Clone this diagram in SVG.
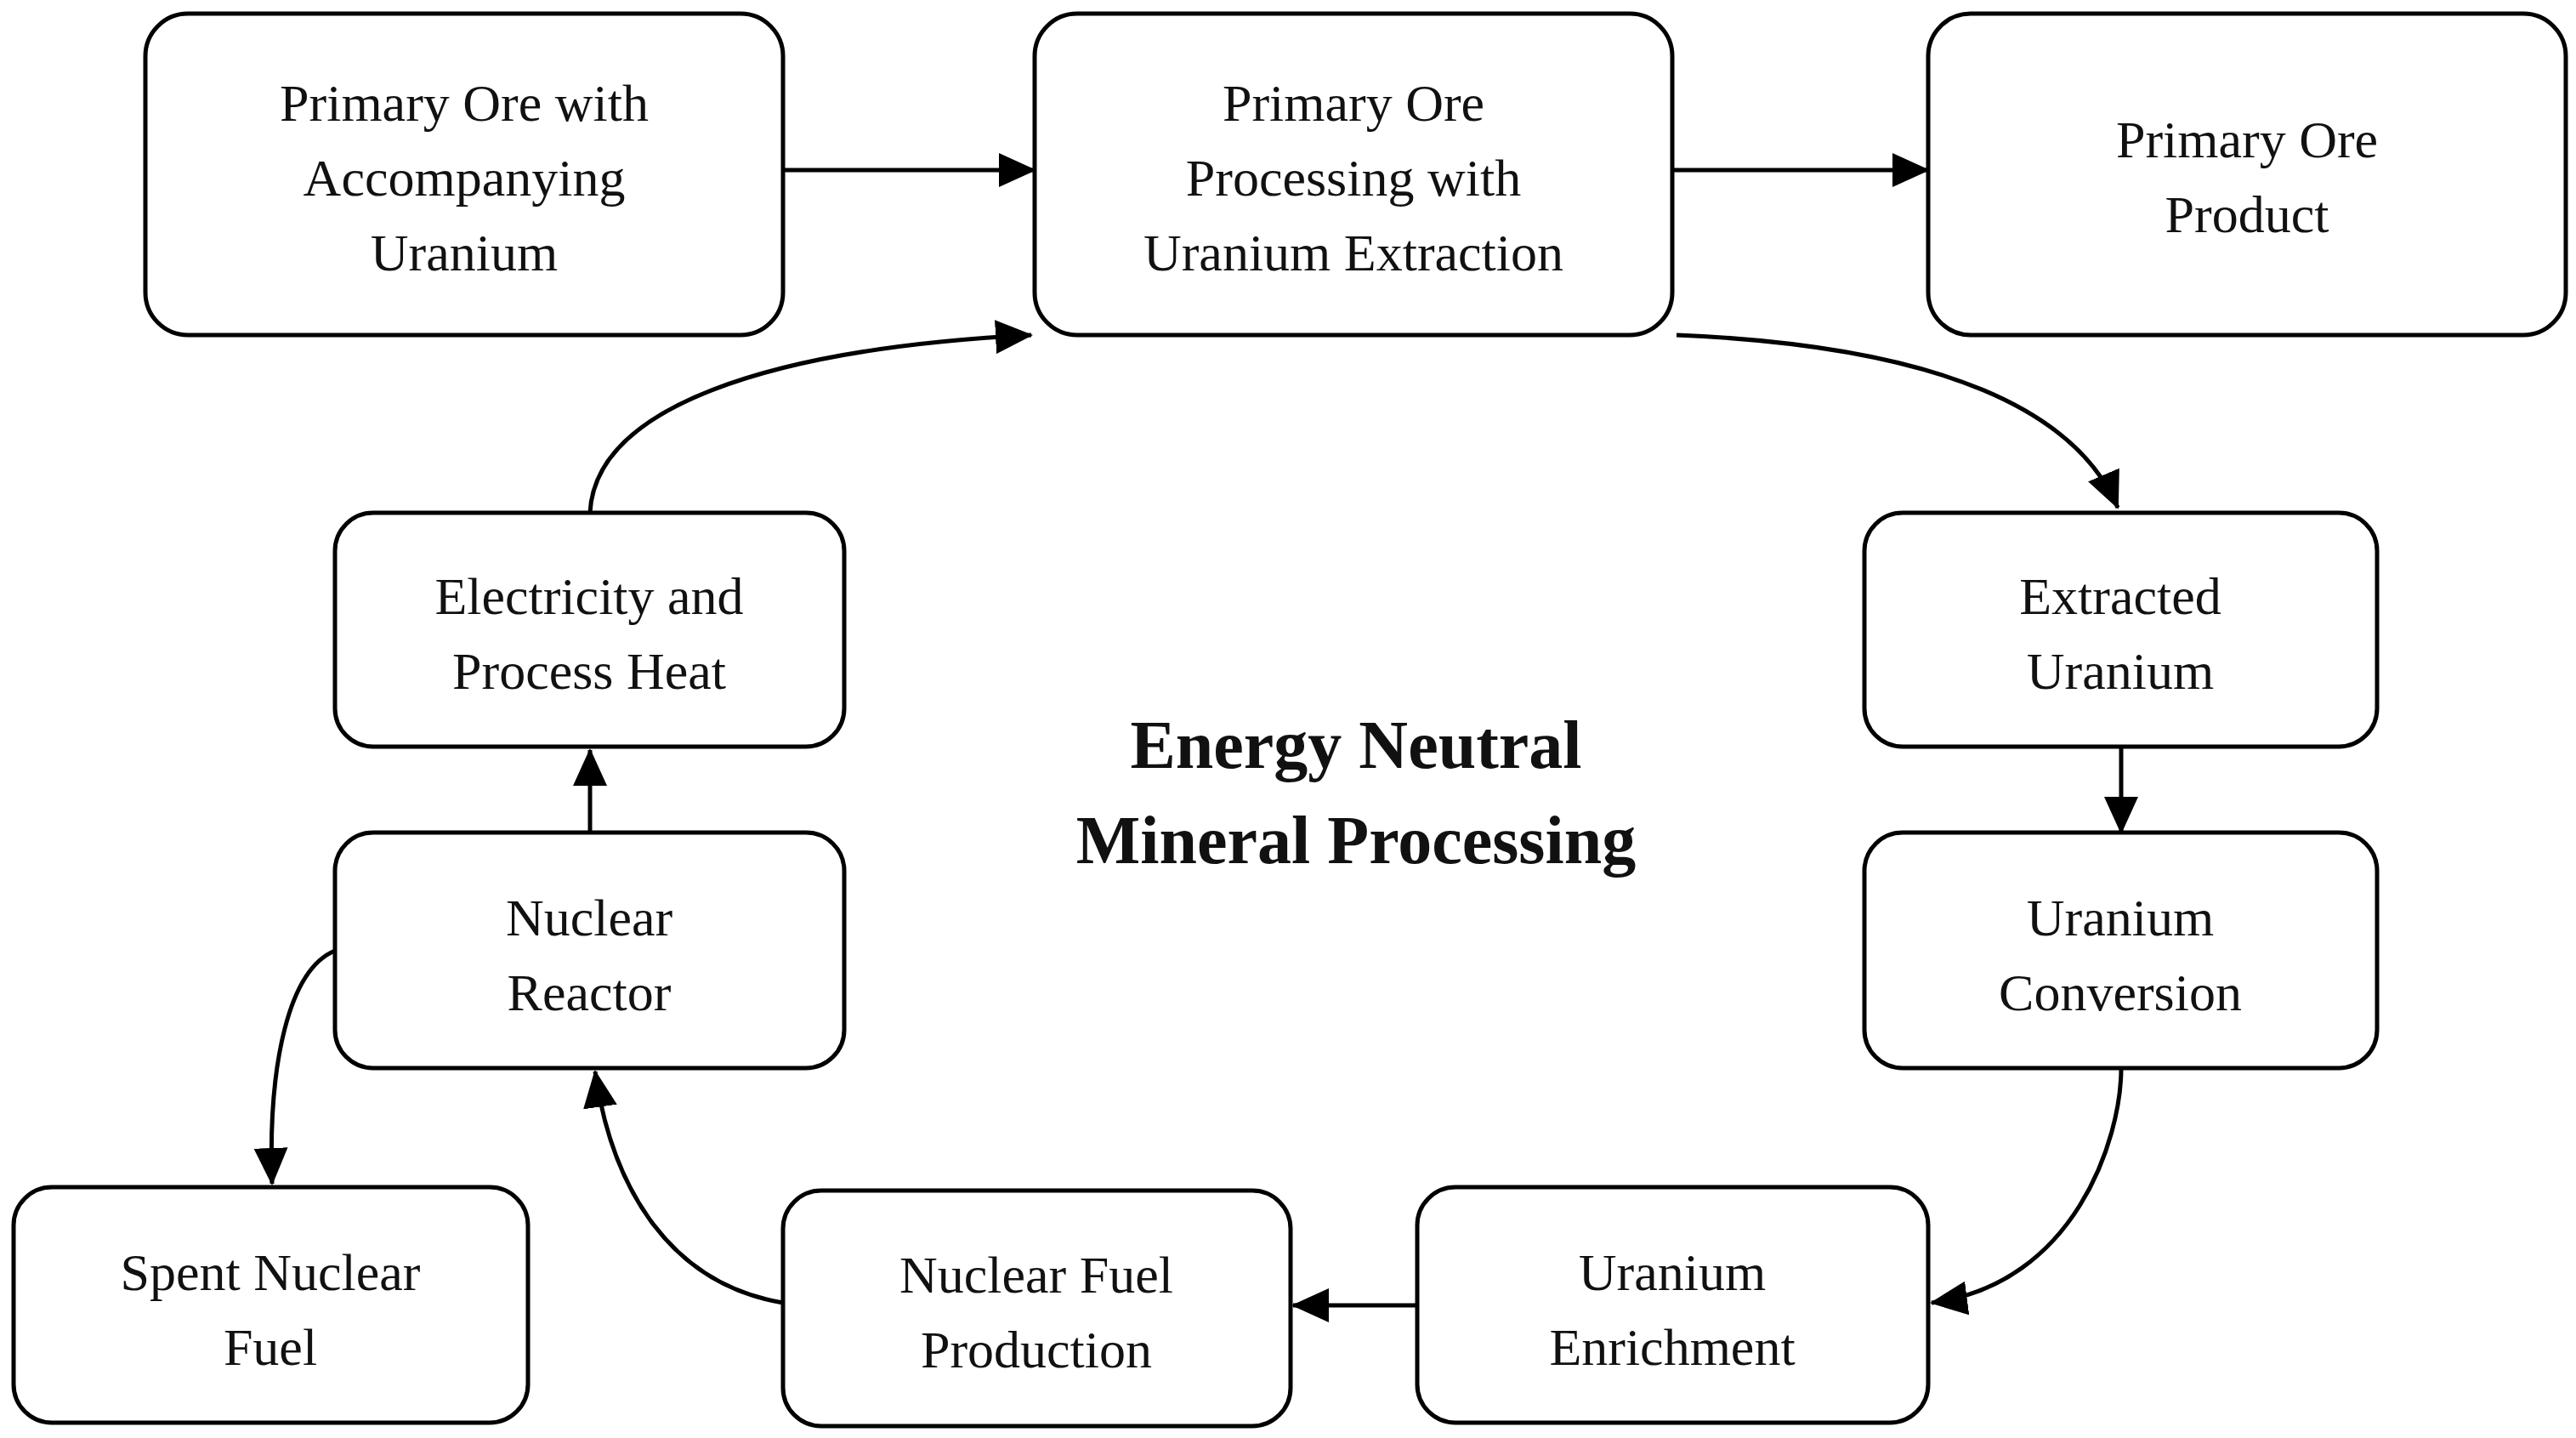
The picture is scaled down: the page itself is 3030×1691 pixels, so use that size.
<svg xmlns="http://www.w3.org/2000/svg" width="3030" height="1691" viewBox="0 0 3030 1691">
<defs>
<style>
.b{fill:#fff;stroke:#000;stroke-width:5}
.t{font-family:"Liberation Serif",serif;font-size:62px;text-anchor:middle;fill:#111}
.h{font-family:"Liberation Serif",serif;font-size:80px;font-weight:bold;text-anchor:middle;fill:#111}
.c{fill:none;stroke:#000;stroke-width:5}
</style>
<marker id="a" markerUnits="userSpaceOnUse" markerWidth="44" markerHeight="40" refX="42" refY="20" orient="auto"><path d="M0,0 L44,20 L0,40 Z" fill="#000"/></marker>
</defs>
<rect width="3030" height="1691" fill="#fff"/>
<g id="n1"><rect class="b" x="171" y="16" width="750" height="378" rx="50"/><text class="t"><tspan x="546" y="142">Primary Ore with</tspan><tspan x="546" y="230">Accompanying</tspan><tspan x="546" y="318">Uranium</tspan></text></g>
<g id="n2"><rect class="b" x="1217" y="16" width="750" height="378" rx="50"/><text class="t"><tspan x="1592" y="142">Primary Ore</tspan><tspan x="1592" y="230">Processing with</tspan><tspan x="1592" y="318">Uranium Extraction</tspan></text></g>
<g id="n3"><rect class="b" x="2268" y="16" width="750" height="378" rx="50"/><text class="t"><tspan x="2643" y="185">Primary Ore</tspan><tspan x="2643" y="273">Product</tspan></text></g>
<g id="n4"><rect class="b" x="394" y="603" width="599" height="275" rx="45"/><text class="t"><tspan x="693" y="722">Electricity and</tspan><tspan x="693" y="810">Process Heat</tspan></text></g>
<g id="n5"><rect class="b" x="2193" y="603" width="603" height="275" rx="45"/><text class="t"><tspan x="2494" y="722">Extracted</tspan><tspan x="2494" y="810">Uranium</tspan></text></g>
<g id="n6"><rect class="b" x="394" y="979" width="599" height="277" rx="45"/><text class="t"><tspan x="693" y="1100">Nuclear</tspan><tspan x="693" y="1188">Reactor</tspan></text></g>
<g id="n7"><rect class="b" x="2193" y="979" width="603" height="277" rx="45"/><text class="t"><tspan x="2494" y="1100">Uranium</tspan><tspan x="2494" y="1188">Conversion</tspan></text></g>
<g id="n8"><rect class="b" x="16" y="1396" width="605" height="277" rx="45"/><text class="t"><tspan x="318" y="1517">Spent Nuclear</tspan><tspan x="318" y="1605">Fuel</tspan></text></g>
<g id="n9"><rect class="b" x="921" y="1400" width="597" height="277" rx="45"/><text class="t"><tspan x="1219" y="1520">Nuclear Fuel</tspan><tspan x="1219" y="1608">Production</tspan></text></g>
<g id="n10"><rect class="b" x="1667" y="1396" width="601" height="277" rx="45"/><text class="t"><tspan x="1967" y="1517">Uranium</tspan><tspan x="1967" y="1605">Enrichment</tspan></text></g>
<g id="title"><text class="h"><tspan x="1595" y="903">Energy Neutral</tspan><tspan x="1595" y="1015">Mineral Processing</tspan></text></g>
<g id="connectors">
<path class="c" marker-end="url(#a)" d="M921,200 L1217,200"/>
<path class="c" marker-end="url(#a)" d="M1967,200 L2268,200"/>
<path class="c" marker-end="url(#a)" d="M1972,394 C2288,407 2443,485 2491,597"/>
<path class="c" marker-end="url(#a)" d="M2495,878 L2495,979"/>
<path class="c" marker-end="url(#a)" d="M2495,1256 C2495,1340 2440,1510 2272,1532"/>
<path class="c" marker-end="url(#a)" d="M1667,1535 L1521,1535"/>
<path class="c" marker-end="url(#a)" d="M921,1532 C790,1510 720,1400 700,1260"/>
<path class="c" marker-end="url(#a)" d="M694,979 L694,882"/>
<path class="c" marker-end="url(#a)" d="M694,603 C700,480 900,410 1213,394"/>
<path class="c" marker-end="url(#a)" d="M394,1118 C340,1140 315,1250 320,1392"/>
</g>
</svg>
